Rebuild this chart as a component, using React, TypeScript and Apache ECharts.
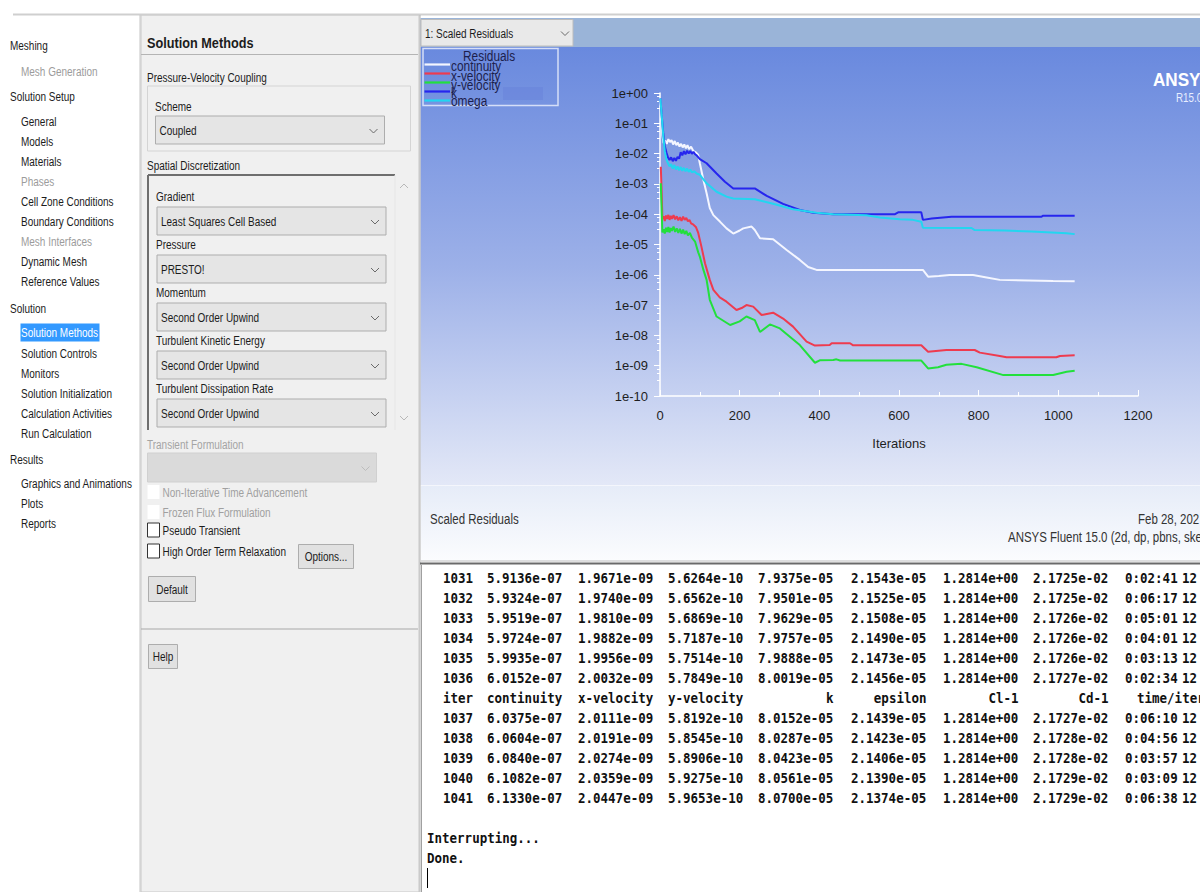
import React, { useEffect, useRef } from 'react';
import * as echarts from 'echarts';

// ---------------- DATA ----------------
const seriesNames = ['continuity', 'x-velocity', 'y-velocity', 'k', 'omega'];
const seriesColors = ['#f4f6ff', '#ee3b4f', '#22e03c', '#2626ee', '#22d6f0'];

const continuity: [number, number][] = [
  [1, 0.62], [3, 0.2], [6, 0.04], [9, 0.022], [13, 0.027], [17, 0.021], [21, 0.03], [25, 0.024], [29, 0.028],
  [33, 0.02], [37, 0.026], [41, 0.019], [45, 0.023], [49, 0.017], [53, 0.021], [57, 0.016], [61, 0.02],
  [65, 0.015], [69, 0.019], [73, 0.014], [78, 0.017], [84, 0.012], [90, 0.011], [96, 0.009], [100, 4.8e-3],
  [109, 1.35e-3], [117, 4.9e-4], [125, 1.6e-4], [134, 9.3e-5], [151, 5.6e-5], [167, 3.4e-5], [184, 2.3e-5],
  [200, 2.9e-5], [209, 3.4e-5], [230, 3.9e-5], [238, 3.0e-5], [251, 1.6e-5], [284, 1.5e-5], [318, 6.6e-6],
  [351, 3.1e-6], [372, 1.8e-6], [393, 1.45e-6], [660, 1.45e-6], [673, 8.7e-7], [700, 9.2e-7], [727, 9.8e-7],
  [786, 9.8e-7], [820, 8.2e-7], [853, 6.8e-7], [987, 6.3e-7], [1041, 6.13e-7],
];

const xVelocity: [number, number][] = [
  [2, 3.7e-3], [4, 6e-4], [6, 7e-5], [9, 8.5e-5], [12, 6e-5], [15, 9e-5], [18, 7e-5], [21, 9.5e-5], [24, 6.5e-5],
  [27, 8.8e-5], [30, 7e-5], [34, 9.3e-5], [38, 6.8e-5], [42, 8.5e-5], [46, 6.3e-5], [50, 8e-5], [54, 6e-5],
  [58, 8.3e-5], [62, 6.5e-5], [66, 7.5e-5], [70, 5.8e-5], [74, 6.5e-5], [78, 5e-5], [84, 4.5e-5], [90, 3.8e-5],
  [96, 2.4e-5], [104, 8.5e-6], [113, 2.4e-6], [125, 6.8e-7], [134, 3.2e-7], [150, 1.8e-7], [167, 1.3e-7],
  [192, 6.9e-8], [205, 8e-8], [217, 1.0e-7], [234, 8.9e-8], [255, 4.7e-8], [268, 5.1e-8], [284, 5.6e-8],
  [309, 3.6e-8], [334, 1.95e-8], [368, 6.2e-9], [389, 4.6e-9], [426, 4.8e-9], [431, 5.5e-9], [477, 5.5e-9],
  [485, 4.7e-9], [656, 4.7e-9], [673, 2.9e-9], [719, 3.3e-9], [790, 3.3e-9], [803, 2.7e-9], [853, 2.1e-9],
  [870, 1.9e-9], [995, 1.9e-9], [1004, 2.1e-9], [1041, 2.2e-9],
];

const yVelocity: [number, number][] = [
  [2, 1.05e-3], [4, 1.5e-4], [6, 2.5e-5], [9, 3.2e-5], [12, 2.3e-5], [15, 3.6e-5], [18, 2.6e-5], [21, 3.8e-5],
  [24, 2.5e-5], [27, 3.5e-5], [30, 2.8e-5], [34, 3.9e-5], [38, 2.6e-5], [42, 3.4e-5], [46, 2.4e-5], [50, 3.3e-5],
  [54, 2.3e-5], [58, 3.1e-5], [62, 2.2e-5], [66, 2.8e-5], [70, 2e-5], [75, 2.4e-5], [80, 1.7e-5], [88, 1.25e-5],
  [96, 5.5e-6], [100, 4e-6], [109, 1.45e-6], [117, 6.8e-7], [125, 1.5e-7], [142, 4.2e-8], [176, 2.2e-8],
  [200, 2.9e-8], [217, 4.2e-8], [238, 3.2e-8], [251, 1.3e-8], [276, 2.3e-8], [301, 1.7e-8], [351, 4.8e-9],
  [389, 1.25e-9], [401, 1.5e-9], [435, 1.55e-9], [443, 1.62e-9], [452, 1.48e-9], [656, 1.48e-9],
  [673, 8.1e-10], [698, 8.9e-10], [719, 1.07e-9], [757, 1.15e-9], [795, 8.9e-10], [862, 4.9e-10],
  [987, 4.9e-10], [1021, 6.3e-10], [1041, 6.8e-10],
];

const kRes: [number, number][] = [
  [1, 0.66], [4, 0.2], [8, 0.05], [12, 0.018], [16, 0.011], [20, 0.0075], [24, 0.0062], [28, 0.0075],
  [32, 0.0056], [36, 0.0072], [40, 0.0058], [44, 0.0078], [48, 0.0068], [52, 0.011], [56, 0.0088], [60, 0.012],
  [64, 0.0095], [68, 0.0125], [72, 0.01], [76, 0.0122], [80, 0.0098], [84, 0.0115], [88, 0.0095], [92, 0.0088],
  [100, 0.0066], [117, 0.0048], [142, 0.0022], [163, 0.00118], [184, 7.1e-4], [238, 7.1e-4], [268, 4.0e-4],
  [309, 2.2e-4], [351, 1.38e-4], [385, 1.12e-4], [435, 1.0e-4], [590, 1.0e-4], [598, 1.15e-4], [656, 1.15e-4],
  [660, 6.5e-5], [682, 7.2e-5], [732, 8.3e-5], [958, 8.3e-5], [962, 8.9e-5], [1041, 8.9e-5],
];

const omega: [number, number][] = [
  [1, 0.66], [4, 0.2], [8, 0.04], [12, 0.012], [16, 0.0065], [20, 0.0048], [24, 0.0038], [28, 0.0045],
  [32, 0.0032], [36, 0.0042], [40, 0.003], [44, 0.0038], [48, 0.0028], [52, 0.0036], [56, 0.0027], [60, 0.0034],
  [64, 0.0026], [68, 0.0032], [72, 0.0025], [76, 0.003], [80, 0.0024], [86, 0.0026], [92, 0.0022], [100, 0.002],
  [117, 0.00105], [142, 5.5e-4], [167, 3.8e-4], [184, 3.3e-4], [238, 3.1e-4], [284, 2.2e-4], [334, 1.45e-4],
  [393, 1.12e-4], [435, 1.0e-4], [518, 9.3e-5], [552, 7.8e-5], [602, 6.8e-5], [635, 6.5e-5], [656, 5.6e-5],
  [660, 3.6e-5], [782, 3.5e-5], [790, 3.0e-5], [866, 2.9e-5], [933, 2.7e-5], [1021, 2.35e-5], [1041, 2.2e-5],
];

const seriesData = [continuity, xVelocity, yVelocity, kRes, omega];

const navItems: [string, number, string][] = [
  ['Meshing', 0, 'n'], ['Mesh Generation', 1, 'd'], ['Solution Setup', 0, 'n'], ['General', 1, 'n'],
  ['Models', 1, 'n'], ['Materials', 1, 'n'], ['Phases', 1, 'd'], ['Cell Zone Conditions', 1, 'n'],
  ['Boundary Conditions', 1, 'n'], ['Mesh Interfaces', 1, 'd'], ['Dynamic Mesh', 1, 'n'],
  ['Reference Values', 1, 'n'], ['Solution', 0, 'n'], ['Solution Methods', 1, 's'], ['Solution Controls', 1, 'n'],
  ['Monitors', 1, 'n'], ['Solution Initialization', 1, 'n'], ['Calculation Activities', 1, 'n'],
  ['Run Calculation', 1, 'n'], ['Results', 0, 'n'], ['Graphics and Animations', 1, 'n'], ['Plots', 1, 'n'],
  ['Reports', 1, 'n'],
];
const navY = [45, 71.5, 96.5, 121.5, 141.5, 161.5, 181.5, 201.5, 221.5, 241.5, 261.5, 281.5, 308, 332.5, 353,
  373, 393, 413, 433, 459, 483.5, 503.5, 523.5];

const discretLabels = ['Gradient', 'Pressure', 'Momentum', 'Turbulent Kinetic Energy', 'Turbulent Dissipation Rate'];
const discretValues = ['Least Squares Cell Based', 'PRESTO!', 'Second Order Upwind', 'Second Order Upwind', 'Second Order Upwind'];

const consoleHeader = ['iter', 'continuity', 'x-velocity', 'y-velocity', 'k', 'epsilon', 'Cl-1', 'Cd-1', 'time/iter'];
const consoleRowsA = [
  ['1031', '5.9136e-07', '1.9671e-09', '5.6264e-10', '7.9375e-05', '2.1543e-05', '1.2814e+00', '2.1725e-02', '0:02:41', '12'],
  ['1032', '5.9324e-07', '1.9740e-09', '5.6562e-10', '7.9501e-05', '2.1525e-05', '1.2814e+00', '2.1725e-02', '0:06:17', '12'],
  ['1033', '5.9519e-07', '1.9810e-09', '5.6869e-10', '7.9629e-05', '2.1508e-05', '1.2814e+00', '2.1726e-02', '0:05:01', '12'],
  ['1034', '5.9724e-07', '1.9882e-09', '5.7187e-10', '7.9757e-05', '2.1490e-05', '1.2814e+00', '2.1726e-02', '0:04:01', '12'],
  ['1035', '5.9935e-07', '1.9956e-09', '5.7514e-10', '7.9888e-05', '2.1473e-05', '1.2814e+00', '2.1726e-02', '0:03:13', '12'],
  ['1036', '6.0152e-07', '2.0032e-09', '5.7849e-10', '8.0019e-05', '2.1456e-05', '1.2814e+00', '2.1727e-02', '0:02:34', '12'],
];
const consoleRowsB = [
  ['1037', '6.0375e-07', '2.0111e-09', '5.8192e-10', '8.0152e-05', '2.1439e-05', '1.2814e+00', '2.1727e-02', '0:06:10', '12'],
  ['1038', '6.0604e-07', '2.0191e-09', '5.8545e-10', '8.0287e-05', '2.1423e-05', '1.2814e+00', '2.1728e-02', '0:04:56', '12'],
  ['1039', '6.0840e-07', '2.0274e-09', '5.8906e-10', '8.0423e-05', '2.1406e-05', '1.2814e+00', '2.1728e-02', '0:03:57', '12'],
  ['1040', '6.1082e-07', '2.0359e-09', '5.9275e-10', '8.0561e-05', '2.1390e-05', '1.2814e+00', '2.1729e-02', '0:03:09', '12'],
  ['1041', '6.1330e-07', '2.0447e-09', '5.9653e-10', '8.0700e-05', '2.1374e-05', '1.2814e+00', '2.1729e-02', '0:06:38', '12'],
];

// ---------------- STYLE ----------------
const F_UI = "'Liberation Sans', Arial, sans-serif";
const F_MONO = "'DejaVu Sans Mono', 'Liberation Mono', monospace";
const NARROW = 0.74;

function txt(x: number, y: number, text: string, o: any = {}) {
  const mono = o.family === F_MONO;
  return {
    type: 'text', x, y, z: 20, silent: true,
    scaleX: o.sx != null ? o.sx : (mono ? 1 : NARROW),
    scaleY: o.sy != null ? o.sy : (mono ? 1.12 : 1),
    style: {
      text, fill: o.fill || '#1c1c1c', fontSize: o.size || 13.5, fontFamily: o.family || F_UI,
      fontWeight: o.weight || 'normal', textAlign: o.align || 'left', textVerticalAlign: 'middle',
    },
  };
}
function rect(x: number, y: number, w: number, h: number, fill: any, stroke?: string | null, lw = 1, z = -10) {
  return {
    type: 'rect', z, silent: true, shape: { x, y, width: w, height: h },
    style: { fill, stroke: stroke || null, lineWidth: stroke ? lw : 0 },
  };
}
function ln(x1: number, y1: number, x2: number, y2: number, stroke: string, lw = 1, z = -5) {
  return { type: 'line', z, silent: true, shape: { x1, y1, x2, y2 }, style: { stroke, lineWidth: lw } };
}
function chev(cx: number, cy: number, up = false, color = '#6a6a6a') {
  const d = up ? -1 : 1;
  return {
    type: 'polyline', z: 15, silent: true,
    shape: { points: [[cx - 4, cy - 2 * d], [cx, cy + 2 * d], [cx + 4, cy - 2 * d]] },
    style: { stroke: color, lineWidth: 1, fill: null },
  };
}
function combo(x: number, y: number, w: number, h: number, label: string, disabled = false) {
  return [
    rect(x, y, w, h, disabled ? '#dadada' : '#e5e5e5', disabled ? '#d0d0d0' : '#adadad', 1, -4),
    txt(x + 4, y + h / 2, label),
    chev(x + w - 11, y + h / 2 + 1, false, disabled ? '#bcbcbc' : '#6a6a6a'),
  ];
}
function button(x: number, y: number, w: number, h: number, label: string) {
  return [rect(x, y, w, h, '#e1e1e1', '#adadad', 1, -4), txt(x + w / 2, y + h / 2, label, { align: 'center' })];
}
function checkbox(x: number, y: number, label: string, disabled: boolean) {
  return [
    rect(x, y, 12, 14, '#ffffff', disabled ? null : '#333333', 1, -4),
    txt(x + 15, y + 7, label, { fill: disabled ? '#a0a0a0' : '#1c1c1c' }),
  ];
}

function buildGraphics() {
  const g: any[] = [];
  g.push(rect(0, 0, 1200, 892, '#ffffff', undefined, 1, -30));
  g.push(ln(13, 14.5, 1200, 14.5, '#cfcfcf', 2));
  g.push(ln(140, 15, 140, 892, '#c4c4c4', 1));

  // navigation tree
  navItems.forEach(([t, lvl, st], i) => {
    const x = lvl === 0 ? 10 : 21;
    const y = navY[i];
    if (st === 's') {
      g.push(rect(20.5, y - 9, 79, 18, '#3399ff', undefined, 1, -4));
      g.push(txt(x, y, t, { fill: '#ffffff' }));
    } else {
      g.push(txt(x, y, t, { fill: st === 'd' ? '#9c9c9c' : '#1c1c1c' }));
    }
  });

  // Solution Methods panel
  g.push(rect(141, 15, 278, 877, '#f0f0f0', '#c8c8c8', 1, -20));
  g.push(txt(147, 43, 'Solution Methods', { size: 15.5, weight: 'bold', sx: 0.82 }));
  g.push(ln(141, 54.5, 418, 54.5, '#b4b4b4', 1));
  g.push(txt(147, 77.5, 'Pressure-Velocity Coupling'));
  g.push(rect(147.5, 86, 263, 65, null, '#d4d4d4', 1, -6));
  g.push(txt(155, 106, 'Scheme'));
  g.push(...combo(155.5, 116, 229, 28, 'Coupled'));
  g.push(txt(147, 165, 'Spatial Discretization'));
  g.push(ln(148, 175, 395, 175, '#6e6e6e', 2));
  g.push(ln(148, 175, 148, 430, '#6e6e6e', 2));
  g.push(ln(395, 175, 395, 430, '#e6e6e6', 1));
  g.push(chev(404, 186, true, '#b8b8b8'));
  g.push(chev(404, 418, false, '#b8b8b8'));
  discretLabels.forEach((lab, i) => {
    const top = 207 + i * 48;
    g.push(txt(156, top - 10.5, lab));
    g.push(...combo(157, top, 229, 28, discretValues[i]));
  });
  g.push(txt(147, 444, 'Transient Formulation', { fill: '#a4a4a4' }));
  g.push(...combo(147.5, 453, 229, 29, '', true));
  g.push(...checkbox(147.5, 485, 'Non-Iterative Time Advancement', true));
  g.push(...checkbox(147.5, 505, 'Frozen Flux Formulation', true));
  g.push(...checkbox(147.5, 523, 'Pseudo Transient', false));
  g.push(...checkbox(147.5, 544, 'High Order Term Relaxation', false));
  g.push(...button(298.5, 544.5, 55, 24, 'Options...'));
  g.push(...button(148.5, 576.5, 47, 25, 'Default'));
  g.push(ln(141, 629, 418, 629, '#a8a8a8', 1));
  g.push(...button(148.5, 644.5, 29, 24, 'Help'));

  // graphics window
  g.push(ln(420, 15, 420, 892, '#b0b0b0', 1));
  g.push(rect(420.5, 18, 780, 29, '#9ab4d8', undefined, 1, -20));
  g.push(rect(421, 19.5, 152, 26.5, '#e9e9e9', '#bcbcbc', 1, -6));
  g.push(txt(425, 33, '1: Scaled Residuals'));
  g.push(chev(565, 33.5, false, '#6a6a6a'));
  g.push(rect(420.5, 47, 780, 438, {
    type: 'linear', x: 0, y: 0, x2: 0, y2: 1,
    colorStops: [
      { offset: 0, color: '#6989de' }, { offset: 0.5, color: '#9cb0e8' }, { offset: 1, color: '#e3e8f7' },
    ],
  }, undefined, 1, -20));

  // legend (drawn)
  g.push(rect(423, 48.5, 135, 57, null, '#d5def8', 1.5, -4));
  g.push(rect(503, 87, 40, 13, 'rgba(90,115,210,0.25)', undefined, 1, -6));
  g.push(txt(463, 56.5, 'Residuals', { size: 14.5, fill: '#1d1f4d', sx: 0.82 }));
  const legY = [64.5, 73.5, 82.5, 91.5, 100.5];
  const legTY = [66.5, 76, 85, 93.5, 101.5];
  seriesNames.forEach((nm, i) => {
    g.push(ln(424.5, legY[i], 450, legY[i], seriesColors[i], 2.2, 5));
    g.push(txt(451, legTY[i], nm, { size: 14.5, fill: '#1d1f4d', sx: 0.82 }));
  });

  // ANSYS mark
  g.push(txt(1153, 80, 'ANSYS', { size: 19, weight: 'bold', fill: '#ffffff', sx: 0.9 }));
  g.push(txt(1176, 98, 'R15.0', { size: 12, fill: '#e8eeff', sx: 0.82 }));

  // footer
  g.push(rect(421, 486, 779, 75, {
    type: 'linear', x: 0, y: 0, x2: 0, y2: 1,
    colorStops: [{ offset: 0, color: '#e6ecf8' }, { offset: 1, color: '#fbfcfe' }],
  }, undefined, 1, -20));
  g.push(ln(421, 485.5, 1200, 485.5, '#f4f6fc', 1));
  g.push(txt(430, 519, 'Scaled Residuals', { size: 14, fill: '#333333', sx: 0.82 }));
  g.push(txt(1138, 519, 'Feb 28, 202', { size: 14, fill: '#333333', sx: 0.82 }));
  g.push(txt(1008, 537, 'ANSYS Fluent 15.0 (2d, dp, pbns, ske', { size: 14, fill: '#333333', sx: 0.82 }));
  g.push(ln(421, 561, 1200, 561, '#c0c0c0', 1));

  // console
  g.push(rect(420.5, 563, 780, 329, '#ffffff', undefined, 1, -20));
  g.push(ln(420, 563.5, 1200, 563.5, '#6a6a6a', 2));
  g.push(ln(421.5, 565, 421.5, 892, '#a0a0a0', 1));
  const colX = [487, 578, 668, 758, 851, 943, 1033, 1125, 1182];
  const cw = 75.5;
  const mono = { family: F_MONO, size: 12.5, weight: 'bold', fill: '#111111' };
  const rowY0 = 578;
  const allRows: string[][] = [...consoleRowsA, consoleHeader, ...consoleRowsB];
  allRows.forEach((row, r) => {
    const y = rowY0 + r * 20;
    if (row === consoleHeader) {
      g.push(txt(443, y, row[0], mono));
      for (let c = 1; c <= 3; c++) g.push(txt(colX[c - 1], y, row[c], mono));
      for (let c = 4; c <= 7; c++) g.push(txt(colX[c - 1] + cw, y, row[c], { ...mono, align: 'right' }));
      g.push(txt(1137, y, row[8], mono));
    } else {
      g.push(txt(473, y, row[0], { ...mono, align: 'right' }));
      for (let c = 1; c < row.length; c++) g.push(txt(colX[c - 1], y, row[c], mono));
    }
  });
  g.push(txt(427, 838, 'Interrupting...', mono));
  g.push(txt(427, 858, 'Done.', mono));
  g.push(ln(427.5, 868, 427.5, 888, '#000000', 1, 5));
  return g;
}

function yFmt(v: number) {
  const e = Math.round(Math.log10(v));
  return '1e' + (e < 0 ? '-' : '+') + String(Math.abs(e)).padStart(2, '0');
}

export default function App() {
  const ref = useRef<HTMLDivElement>(null);
  useEffect(() => {
    if (!ref.current) return;
    const chart = echarts.init(ref.current, null, { renderer: 'svg' });
    const axisLabelStyle = { color: '#1e1e1e', fontSize: 13, fontFamily: F_UI };
    chart.setOption({
      animation: false,
      backgroundColor: '#ffffff',
      graphic: { elements: buildGraphics() },
      grid: { left: 660, top: 93, width: 478, height: 303, containLabel: false },
      xAxis: {
        type: 'value', min: 0, max: 1200, interval: 200,
        name: 'Iterations', nameLocation: 'middle', nameGap: 41,
        nameTextStyle: { color: '#1e1e1e', fontSize: 13, fontFamily: F_UI },
        axisLine: { show: true, lineStyle: { color: '#ffffff', width: 1.5 } },
        axisTick: { show: true, inside: true, length: 6, lineStyle: { color: '#ffffff' } },
        minorTick: { show: true, splitNumber: 2, length: 4, lineStyle: { color: '#ffffff' } },
        splitLine: { show: false },
        axisLabel: { ...axisLabelStyle, margin: 13, formatter: (v: number) => String(v) },
      },
      yAxis: {
        type: 'log', logBase: 10, min: 1e-10, max: 1, interval: 1,
        axisLine: { show: true, lineStyle: { color: '#ffffff', width: 1.5 } },
        axisTick: { show: true, inside: false, length: 6, lineStyle: { color: '#ffffff' } },
        minorTick: { show: true, splitNumber: 4, length: 3, lineStyle: { color: '#ffffff' } },
        splitLine: { show: false },
        axisLabel: { ...axisLabelStyle, margin: 12, formatter: yFmt },
      },
      series: seriesNames.map((nm, i) => ({
        name: nm, type: 'line', data: seriesData[i], showSymbol: false, symbol: 'none',
        lineStyle: { color: seriesColors[i], width: 2 }, itemStyle: { color: seriesColors[i] },
        z: 3 + i, silent: true,
      })),
    });
    return () => chart.dispose();
  }, []);
  return <div ref={ref} style={{ position: 'fixed', left: 0, top: 0, width: 1200, height: 892 }} />;
}
